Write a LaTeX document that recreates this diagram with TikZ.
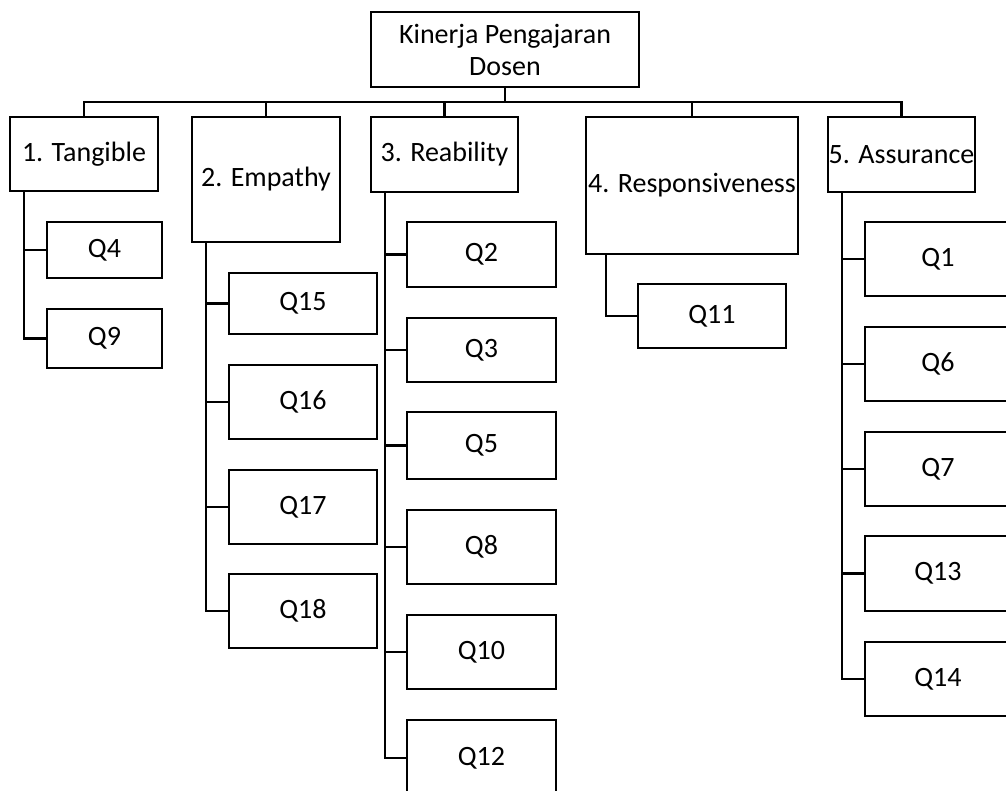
\documentclass[tikz,border=0pt]{standalone}
\usepackage{fontspec}
\setmainfont{Carlito}
\usetikzlibrary{positioning}

\begin{document}
\begin{tikzpicture}[x=1pt, y=-1pt,
    box/.style={draw, line width=2.6pt, inner sep=0pt, align=center,
                font=\fontsize{28}{32}\selectfont},
    link/.style={line width=2.2pt}]
\useasboundingbox (0,0) rectangle (1006,790);
%top
\node [box, minimum width=268, minimum height=75] (root) at (505,49.5) {Kinerja Pengajaran\\Dosen};
%dimensions
\node [box, minimum width=148, minimum height=74]  (tan) at (84,154)     {1. Tangible};
\node [box, minimum width=148, minimum height=125] (emp) at (266,179.5)  {2. Empathy};
\node [box, minimum width=147, minimum height=75]  (rea) at (444.5,154.5) {3. Reability};
\node [box, minimum width=212, minimum height=137] (res) at (692,185.5)  {4. Responsiveness};
\node [box, minimum width=147, minimum height=75]  (ass) at (901.5,154.5) {5. Assurance};
%items
\node [box, minimum width=115, minimum height=56] (q4) at (104.5,250)   {Q4};
\node [box, minimum width=115, minimum height=59] (q9) at (104.5,338.5) {Q9};

\node [box, minimum width=148, minimum height=61] (q15) at (303,303.5) {Q15};
\node [box, minimum width=148, minimum height=74] (q16) at (303,402)   {Q16};
\node [box, minimum width=148, minimum height=74] (q17) at (303,507)   {Q17};
\node [box, minimum width=148, minimum height=74] (q18) at (303,611)   {Q18};

\node [box, minimum width=149, minimum height=65] (q2)  at (481.5,254.5) {Q2};
\node [box, minimum width=149, minimum height=64] (q3)  at (481.5,350)   {Q3};
\node [box, minimum width=149, minimum height=67] (q5)  at (481.5,445.5) {Q5};
\node [box, minimum width=149, minimum height=74] (q8)  at (481.5,547)   {Q8};
\node [box, minimum width=149, minimum height=74] (q10) at (481.5,652)   {Q10};
\node [box, minimum width=149, minimum height=76] (q12) at (481.5,758)   {Q12};

\node [box, minimum width=148, minimum height=64] (q11) at (712,316) {Q11};

\node [box, minimum width=146, minimum height=74] (q1)  at (938,259)   {Q1};
\node [box, minimum width=146, minimum height=74] (q6)  at (938,364)   {Q6};
\node [box, minimum width=146, minimum height=74] (q7)  at (938,469)   {Q7};
\node [box, minimum width=146, minimum height=75] (q13) at (938,573.5) {Q13};
\node [box, minimum width=146, minimum height=74] (q14) at (938,679)   {Q14};
%lines
\foreach \d in {tan,emp,rea,res,ass}
  \draw [link] (root.south) -- ++(0,14) -| (\d.north);
\foreach \q in {q4,q9}
  \draw [link] ([xshift=15]tan.south west) |- (\q.west);
\foreach \q in {q15,q16,q17,q18}
  \draw [link] ([xshift=15]emp.south west) |- (\q.west);
\foreach \q in {q2,q3,q5,q8,q10,q12}
  \draw [link] ([xshift=15]rea.south west) |- (\q.west);
\draw [link] ([xshift=21]res.south west) |- (q11.west);
\foreach \q in {q1,q6,q7,q13,q14}
  \draw [link] ([xshift=15]ass.south west) |- (\q.west);
\end{tikzpicture}
\end{document}
